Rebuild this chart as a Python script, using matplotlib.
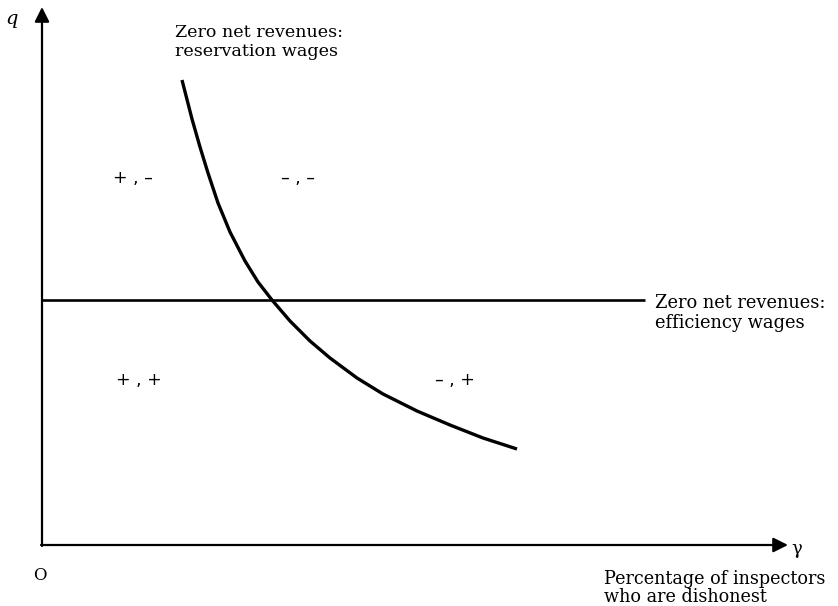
import matplotlib
matplotlib.use("Agg")
from matplotlib import pyplot as plt
import numpy as np

# zero net revenues, reservation wages (gamma, q)
res_gamma = [1.40, 1.50, 1.58, 1.66, 1.76, 1.88, 2.03, 2.16, 2.30, 2.48,
             2.68, 2.88, 3.15, 3.41, 3.75, 4.08, 4.41, 4.75]
res_q = [4.65, 4.26, 3.98, 3.72, 3.42, 3.13, 2.84, 2.63, 2.45, 2.24,
         2.04, 1.87, 1.67, 1.51, 1.34, 1.20, 1.07, 0.96]

# zero net revenues, efficiency wages (flat line)
eff_gamma = [0.0, 6.03]
eff_q = [2.45, 2.45]

# sign labels per region
region_labels = ["+ , \u2013", "\u2013 , \u2013", "+ , +", "\u2013 , +"]
region_gamma = [0.91, 2.56, 0.97, 4.13]
region_q = [3.67, 3.67, 1.65, 1.65]

fig = plt.figure(figsize=(8.38, 6.06), dpi=100)
ax = fig.add_axes([0, 0, 1, 1])
ax.set_xlim(-0.42, 7.96)
ax.set_ylim(-0.61, 5.45)
ax.axis("off")

serif = "DejaVu Serif"

# axes with arrows
ax.annotate("", xy=(0, 5.38), xytext=(0, -0.01),
            arrowprops=dict(arrowstyle="-|>", lw=1.6, color="k", mutation_scale=22,
                            shrinkA=0, shrinkB=0))
ax.annotate("", xy=(7.46, 0), xytext=(-0.01, 0),
            arrowprops=dict(arrowstyle="-|>", lw=1.6, color="k", mutation_scale=22,
                            shrinkA=0, shrinkB=0))

ax.plot(eff_gamma, eff_q, color="k", lw=1.9, solid_capstyle="butt")
ax.plot(res_gamma, res_q, color="k", lw=2.4, solid_capstyle="butt",
        solid_joinstyle="round")

for lab, gx, qy in zip(region_labels, region_gamma, region_q):
    ax.text(gx, qy, lab, fontsize=12.5, family="DejaVu Sans", ha="center", va="center")

ax.text(-0.30, 5.26, "q", fontsize=14, family=serif, style="italic", ha="center", va="center")
ax.text(-0.02, -0.30, "O", fontsize=12, family=serif, ha="center", va="center")
ax.text(7.55, -0.04, "\u03b3", fontsize=13, family=serif, ha="center", va="center")

ax.text(1.33, 5.03, "Zero net revenues:\nreservation wages", fontsize=12.6, family=serif,
        ha="left", va="center", linespacing=1.15)
ax.text(6.13, 2.32, "Zero net revenues:\nefficiency wages", fontsize=12.9, family=serif,
        ha="left", va="center", linespacing=1.15)
ax.text(5.62, -0.43, "Percentage of inspectors\nwho are dishonest", fontsize=12.7, family=serif,
        ha="left", va="center", linespacing=1.05)

fig.savefig("out.png", dpi=100, facecolor="white")
